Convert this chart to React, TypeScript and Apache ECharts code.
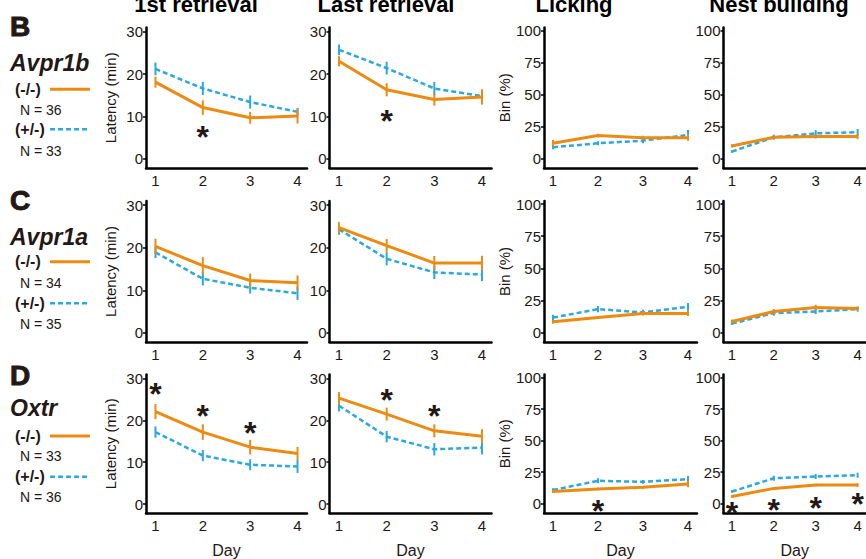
import React, { useEffect, useRef } from "react";
import * as echarts from "echarts";

const DAYS = [1, 2, 3, 4];
const LAT_TICKS = [0, 10, 20, 30];
const BIN_TICKS = [0, 25, 50, 75, 100];
const TITLES = ["1st retrieval", "Last retrieval", "Licking", "Nest building"];
const ROW_LETTERS = ["B", "C", "D"];
const GENES = ["Avpr1b", "Avpr1a", "Oxtr"];
const N_KO = [36, 34, 33];
const N_HET = [33, 35, 36];

// Avpr1b (B)
const B_first_ko = [18.1, 12.1, 9.7, 10.1];
const B_first_ko_se = [1.3, 1.7, 1.4, 1.75];
const B_first_het = [21.2, 16.6, 13.4, 11.1];
const B_first_het_se = [1.5, 1.55, 1.55, 0.9];
const B_last_ko = [23.0, 16.3, 14.0, 14.6];
const B_last_ko_se = [1.2, 1.55, 1.45, 1.8];
const B_last_het = [25.7, 21.4, 16.6, 14.8];
const B_last_het_se = [1.25, 1.5, 1.55, 1.5];
const B_lick_ko = [12.0, 18.0, 16.4, 16.4];
const B_lick_ko_se = [2.5, 1.5, 1.5, 2.5];
const B_lick_het = [8.9, 12.0, 14.1, 18.5];
const B_lick_het_se = [1.5, 1.5, 2, 3.9];
const B_nest_ko = [9.9, 16.7, 17.2, 17.2];
const B_nest_ko_se = [1.2, 1.2, 1.5, 2];
const B_nest_het = [5.5, 16.7, 19.8, 20.6];
const B_nest_het_se = [1, 2, 2.5, 2.5];

// Avpr1a (C)
const C_first_ko = [20.3, 15.8, 12.3, 11.8];
const C_first_ko_se = [1.8, 2.0, 1.6, 1.7];
const C_first_het = [18.9, 12.7, 10.6, 9.3];
const C_first_het_se = [1.35, 1.55, 1.35, 1.55];
const C_last_ko = [24.7, 20.5, 16.4, 16.4];
const C_last_ko_se = [1.3, 1.55, 1.65, 1.7];
const C_last_het = [24.3, 17.4, 14.2, 13.7];
const C_last_het_se = [1.25, 1.55, 1.55, 1.55];
const C_lick_ko = [8.4, 11.7, 14.9, 14.9];
const C_lick_ko_se = [1.5, 1.2, 1.5, 2];
const C_lick_het = [11.7, 18.3, 15.7, 20.1];
const C_lick_het_se = [2.2, 2.5, 2, 3];
const C_nest_ko = [8.6, 16.4, 19.6, 18.8];
const C_nest_ko_se = [1.5, 2, 2, 1.5];
const C_nest_het = [7.0, 15.2, 16.4, 18.3];
const C_nest_het_se = [1, 2, 2, 2];

// Oxtr (D)
const D_first_ko = [22.1, 17.2, 13.6, 12.1];
const D_first_ko_se = [1.8, 1.85, 1.75, 1.55];
const D_first_het = [17.2, 11.6, 9.4, 9.0];
const D_first_het_se = [1.35, 1.35, 1.3, 1.55];
const D_last_ko = [25.3, 21.5, 17.5, 16.2];
const D_last_ko_se = [1.45, 1.55, 1.55, 1.7];
const D_last_het = [23.5, 16.1, 13.1, 13.5];
const D_last_het_se = [1.4, 1.35, 1.5, 1.65];
const D_lick_ko = [9.7, 11.7, 13.0, 15.6];
const D_lick_ko_se = [1.2, 1, 1, 2.5];
const D_lick_het = [10.9, 18.2, 17.4, 19.5];
const D_lick_het_se = [1.5, 2, 1.5, 2.5];
const D_nest_ko = [5.8, 12.2, 14.8, 14.8];
const D_nest_ko_se = [1, 1, 1, 1.5];
const D_nest_het = [9.7, 20.2, 21.6, 22.6];
const D_nest_het_se = [1, 2, 2, 2];

// significance stars [day, y]
const B_first_stars = [[2, 6.8]];
const B_last_stars = [[2, 10.6]];
const D_first_stars = [[1, 27.9], [2, 22.7], [3, 18.7]];
const D_last_stars = [[2, 26.6], [3, 22.6]];
const D_lick_stars = [[2, 0]];
const D_nest_stars = [[1, -2], [2, 0.5], [3, 2], [4, 5]];

const PANELS = [
  [
    { ko: B_first_ko, koSe: B_first_ko_se, het: B_first_het, hetSe: B_first_het_se, stars: B_first_stars },
    { ko: B_last_ko, koSe: B_last_ko_se, het: B_last_het, hetSe: B_last_het_se, stars: B_last_stars },
    { ko: B_lick_ko, koSe: B_lick_ko_se, het: B_lick_het, hetSe: B_lick_het_se, stars: [] },
    { ko: B_nest_ko, koSe: B_nest_ko_se, het: B_nest_het, hetSe: B_nest_het_se, stars: [] },
  ],
  [
    { ko: C_first_ko, koSe: C_first_ko_se, het: C_first_het, hetSe: C_first_het_se, stars: [] },
    { ko: C_last_ko, koSe: C_last_ko_se, het: C_last_het, hetSe: C_last_het_se, stars: [] },
    { ko: C_lick_ko, koSe: C_lick_ko_se, het: C_lick_het, hetSe: C_lick_het_se, stars: [] },
    { ko: C_nest_ko, koSe: C_nest_ko_se, het: C_nest_het, hetSe: C_nest_het_se, stars: [] },
  ],
  [
    { ko: D_first_ko, koSe: D_first_ko_se, het: D_first_het, hetSe: D_first_het_se, stars: D_first_stars },
    { ko: D_last_ko, koSe: D_last_ko_se, het: D_last_het, hetSe: D_last_het_se, stars: D_last_stars },
    { ko: D_lick_ko, koSe: D_lick_ko_se, het: D_lick_het, hetSe: D_lick_het_se, stars: D_lick_stars },
    { ko: D_nest_ko, koSe: D_nest_ko_se, het: D_nest_het, hetSe: D_nest_het_se, stars: D_nest_stars },
  ],
];

const ORANGE = "#EC8A12";
const BLUE = "#2AA8E0";
const INK = "#231815";
const FONT = "'Liberation Sans', Arial, sans-serif";

const COLS = [
  { left: 146, width: 161 },
  { left: 329.5, width: 162 },
  { left: 544, width: 153 },
  { left: 723.5, width: 153 },
];
const ROWS = [
  { top: 27.5, height: 140.5 },
  { top: 201, height: 141 },
  { top: 374.5, height: 140.5 },
];
const LEGEND_Y = [
  { letter: 26.7, gene: 63.3, ko: 89.3, n1: 110, het: 129.3, n2: 150.7 },
  { letter: 200.5, gene: 236.7, ko: 261.7, n1: 282.7, het: 303.3, n2: 324 },
  { letter: 375.5, gene: 408.3, ko: 436, n1: 456, het: 476.7, n2: 496.7 },
];
const TITLE_X = [196, 386, 574, 779];

function errSeries(vals: number[], se: number[], color: string, idx: number) {
  return {
    type: "custom",
    xAxisIndex: idx,
    yAxisIndex: idx,
    data: DAYS.map((d, i) => [d, vals[i] - se[i], vals[i] + se[i]]),
    encode: { x: 0, y: [1, 2] },
    renderItem: (params: any, api: any) => {
      const x = api.value(0);
      const lo = api.coord([x, api.value(1)]);
      const hi = api.coord([x, api.value(2)]);
      return {
        type: "line",
        shape: { x1: lo[0], y1: lo[1], x2: hi[0], y2: hi[1] },
        style: { stroke: color, lineWidth: 2 },
      };
    },
    z: 4,
  };
}

export default function App() {
  const ref = useRef<HTMLDivElement>(null);
  useEffect(() => {
    if (!ref.current) return;
    const chart = echarts.init(ref.current, undefined, { renderer: "svg" });
    const grid: any[] = [];
    const xAxis: any[] = [];
    const yAxis: any[] = [];
    const series: any[] = [];
    ROWS.forEach((r, ri) => {
      COLS.forEach((c, ci) => {
        const idx = ri * 4 + ci;
        const isBin = ci >= 2;
        grid.push({ left: c.left, top: r.top, width: c.width, height: r.height });
        xAxis.push({
          type: "value",
          gridIndex: idx,
          min: 0.8,
          max: 4.2,
          splitLine: { show: false },
          axisLine: { show: true, onZero: false, lineStyle: { color: "#000", width: 2.5 } },
          axisTick: { show: false },
          axisLabel: { customValues: DAYS, color: INK, fontSize: 15, fontFamily: FONT, margin: 5 },
          name: ri === 2 ? "Day" : "",
          nameLocation: "middle",
          nameGap: 29,
          nameTextStyle: { color: INK, fontSize: 16, fontFamily: FONT },
        });
        yAxis.push({
          type: "value",
          gridIndex: idx,
          min: isBin ? -7.3 : -2.12,
          max: isBin ? 102.4 : 30.95,
          splitLine: { show: false },
          axisLine: { show: true, onZero: false, lineStyle: { color: "#000", width: 2.5 } },
          axisTick: { show: true, customValues: isBin ? BIN_TICKS : LAT_TICKS, length: 3, lineStyle: { color: "#000", width: 1.5 } },
          axisLabel: { customValues: isBin ? BIN_TICKS : LAT_TICKS, color: INK, fontSize: 15, fontFamily: FONT, margin: 3 },
          name: ci === 0 ? "Latency (min)" : ci === 2 ? "Bin (%)" : "",
          nameLocation: "middle",
          nameGap: 28,
          nameTextStyle: { color: INK, fontSize: 15, fontFamily: FONT },
        });
        const p = PANELS[ri][ci];
        series.push({
          type: "line",
          xAxisIndex: idx,
          yAxisIndex: idx,
          data: DAYS.map((d, i) => [d, p.het[i]]),
          symbol: "none",
          lineStyle: { color: BLUE, width: 2.5, type: [5, 3] },
          z: 2,
        });
        series.push({
          type: "line",
          xAxisIndex: idx,
          yAxisIndex: idx,
          data: DAYS.map((d, i) => [d, p.ko[i]]),
          symbol: "none",
          lineStyle: { color: ORANGE, width: 3 },
          z: 3,
        });
        series.push(errSeries(p.het, p.hetSe, BLUE, idx));
        series.push(errSeries(p.ko, p.koSe, ORANGE, idx));
        if (p.stars.length) {
          series.push({
            type: "scatter",
            xAxisIndex: idx,
            yAxisIndex: idx,
            data: p.stars,
            symbolSize: 0,
            itemStyle: { opacity: 1, color: INK },
            label: {
              show: true,
              position: "inside",
              formatter: "*",
              fontSize: 32,
              lineHeight: 8,
              fontWeight: "bold",
              fontFamily: FONT,
              color: INK,
              textBorderWidth: 0,
              textBorderColor: "transparent",
              offset: [0, 7],
            },
            z: 6,
          });
        }
      });
    });

    const graphic: any[] = [];
    TITLES.forEach((t, i) => {
      graphic.push({
        type: "text",
        x: TITLE_X[i],
        y: 4.4,
        style: { text: t, fill: "#000", font: `bold 22px ${FONT}`, textAlign: "center", textVerticalAlign: "middle" },
      });
    });
    LEGEND_Y.forEach((ly, ri) => {
      graphic.push({
        type: "text", x: 10, y: ly.letter,
        style: { text: ROW_LETTERS[ri], fill: INK, font: `900 28px ${FONT}`, textAlign: "left", textVerticalAlign: "middle", stroke: INK, lineWidth: 1 },
      });
      graphic.push({
        type: "text", x: 10, y: ly.gene,
        style: { text: GENES[ri], fill: INK, font: `italic bold 23px ${FONT}`, textAlign: "left", textVerticalAlign: "middle" },
      });
      graphic.push({
        type: "text", x: 15, y: ly.ko,
        style: { text: "(-/-)", fill: INK, font: `bold 16px ${FONT}`, textAlign: "left", textVerticalAlign: "middle" },
      });
      graphic.push({
        type: "line", shape: { x1: 50, y1: ly.ko, x2: 90, y2: ly.ko },
        style: { stroke: ORANGE, lineWidth: 3 },
      });
      graphic.push({
        type: "text", x: 20, y: ly.n1,
        style: { text: `N = ${N_KO[ri]}`, fill: INK, font: `14px ${FONT}`, textAlign: "left", textVerticalAlign: "middle" },
      });
      graphic.push({
        type: "text", x: 15, y: ly.het,
        style: { text: "(+/-)", fill: INK, font: `bold 16px ${FONT}`, textAlign: "left", textVerticalAlign: "middle" },
      });
      graphic.push({
        type: "line", shape: { x1: 50, y1: ly.het, x2: 90, y2: ly.het },
        style: { stroke: BLUE, lineWidth: 2.5, lineDash: [5, 3] },
      });
      graphic.push({
        type: "text", x: 20, y: ly.n2,
        style: { text: `N = ${N_HET[ri]}`, fill: INK, font: `14px ${FONT}`, textAlign: "left", textVerticalAlign: "middle" },
      });
    });

    chart.setOption({
      animation: false,
      backgroundColor: "#fff",
      grid,
      xAxis,
      yAxis,
      series,
      graphic,
    });
    return () => chart.dispose();
  }, []);
  return (
    <div
      ref={ref}
      style={{ position: "fixed", left: 0, top: 0, width: 866, height: 559 }}
    />
  );
}
